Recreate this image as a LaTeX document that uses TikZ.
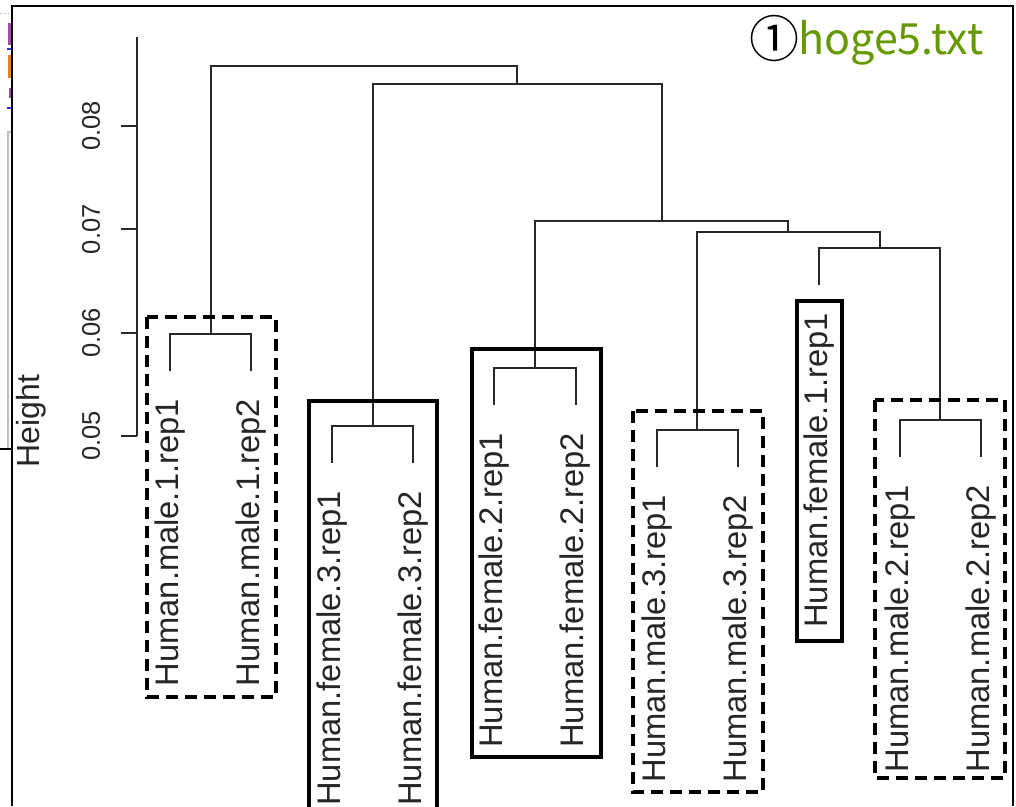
\documentclass[tikz,border=0pt]{standalone}
\usepackage{fontspec}
\setmainfont{Liberation Sans}
\newfontfamily\cjkfont{Noto Sans CJK JP}
\definecolor{hogegreen}{RGB}{102,153,0}
\definecolor{branchgray}{RGB}{40,40,40}
\definecolor{edgegray}{RGB}{190,190,190}

\begin{document}
\begin{tikzpicture}[x=1pt,y=-1pt,
  branch/.style={draw=branchgray,line width=2pt},
  leaflabel/.style={rotate=90,anchor=east,inner sep=0pt,
    font=\fontsize{32.7}{34}\selectfont,text=black!85},
  ticklabel/.style={rotate=90,inner sep=0pt,
    font=\fontsize{25.5}{27}\selectfont,text=black!85},
  grpdash/.style={draw=black,line width=3.2pt,dash pattern=on 12pt off 7pt},
  grpsolid/.style={draw=black,line width=3.4pt},
  framebox/.style={draw=black,line width=2pt}]
\useasboundingbox (0,0) rectangle (1016,806);
\clip (0,0) rectangle (1016,806);
\fill[white] (0,0) rectangle (1016,806);

% window frame and bits of the window behind it
\draw[edgegray,line width=2pt] (12,132) -- (8,132) -- (8,449);
\draw[black,line width=1.5pt] (0,449) -- (12,449);
\draw[gray!60,line width=1pt,dash pattern=on 1pt off 1.5pt] (0,13) -- (10,13);
\fill[violet!70] (8,23) rectangle (12,45);
\fill[blue!80] (7,48) rectangle (12,50);
\fill[orange!70!brown] (8,55) rectangle (12,78);
\fill[violet!70] (9,88) rectangle (12,98);
\fill[blue!80] (7,107) rectangle (12,109);
\draw[framebox] (12,806) -- (12,6) -- (1013,6) -- (1013,806);

% y axis
\coordinate (ax0) at (137,37);
\coordinate (ax1) at (137,436);
\draw[branch] (ax0) -- (ax1);
\foreach \i/\v/\y in {8/0.08/126,7/0.07/229.3,6/0.06/332.7,5/0.05/436}{
  \coordinate (tk\i) at (137,\y);
  \draw[branch] (tk\i) -- ++(-16,0);
  \node[ticklabel] (tl\i) at (91,\y) {\v};
}
\node[rotate=90,anchor=base,inner sep=0pt,font=\fontsize{32}{34}\selectfont,text=black!85]
  (ylab) at (39,421) {Height};

% leaf ends
\coordinate (L1) at (170.0,371);
\coordinate (L2) at (251.1,371);
\coordinate (L3) at (332.2,463);
\coordinate (L4) at (413.3,463);
\coordinate (L5) at (494.4,405);
\coordinate (L6) at (575.5,405);
\coordinate (L7) at (656.6,467);
\coordinate (L8) at (737.7,467);
\coordinate (L9) at (818.8,285);
\coordinate (L10) at (899.9,457);
\coordinate (L11) at (981.0,457);

% merge points
\coordinate (A) at (210.55,334);
\coordinate (B) at (372.75,426);
\coordinate (C) at (534.95,368);
\coordinate (D) at (697.15,430);
\coordinate (E) at (940.45,420);
\coordinate (F) at (879.6,248);
\coordinate (G) at (788.4,232);
\coordinate (H) at (661.7,221);
\coordinate (I) at (517.2,84);
\coordinate (J) at (363.9,66);

% dendrogram branches
\draw[branch] (L1) |- (A) -| (L2);
\draw[branch] (L3) |- (B) -| (L4);
\draw[branch] (L5) |- (C) -| (L6);
\draw[branch] (L7) |- (D) -| (L8);
\draw[branch] (L10) |- (E) -| (L11);
\draw[branch] (L9) |- (F) -| (E);
\draw[branch] (D) |- (G) -| (F);
\draw[branch] (C) |- (H) -| (G);
\draw[branch] (B) |- (I) -| (H);
\draw[branch] (A) |- (J) -| (I);

% leaf labels, hanging below the leaf ends
\node[leaflabel] (t1) at ([yshift=-28pt]L1) {Human.male.1.rep1};
\node[leaflabel] (t2) at ([yshift=-28pt]L2) {Human.male.1.rep2};
\node[leaflabel] (t3) at ([yshift=-28pt]L3) {Human.female.3.rep1};
\node[leaflabel] (t4) at ([yshift=-28pt]L4) {Human.female.3.rep2};
\node[leaflabel] (t5) at ([yshift=-28pt]L5) {Human.female.2.rep1};
\node[leaflabel] (t6) at ([yshift=-28pt]L6) {Human.female.2.rep2};
\node[leaflabel] (t7) at ([yshift=-28pt]L7) {Human.male.3.rep1};
\node[leaflabel] (t8) at ([yshift=-28pt]L8) {Human.male.3.rep2};
\node[leaflabel] (t9) at ([yshift=-28pt]L9) {Human.female.1.rep1};
\node[leaflabel] (t10) at ([yshift=-28pt]L10) {Human.male.2.rep1};
\node[leaflabel] (t11) at ([yshift=-28pt]L11) {Human.male.2.rep2};

% group boxes
\draw[grpdash] (147,317) rectangle (276,697);
\draw[grpsolid] (309,401) rectangle (437,830);
\draw[grpsolid] (472,349) rectangle (601,757);
\draw[grpdash] (633,411) rectangle (763,792);
\draw[grpsolid] (797,301) rectangle (842,641);
\draw[grpdash] (875,400) rectangle (1005,778);

% file tag
\node[inner sep=0pt,font=\cjkfont\fontsize{50}{52}\selectfont] (num) at (774.5,38.5) {①};
\node[anchor=base west,inner sep=0pt,text=hogegreen,
  font=\cjkfont\fontsize{43}{45}\selectfont] (fname) at (798,54) {hoge5.txt};
\end{tikzpicture}
\end{document}
